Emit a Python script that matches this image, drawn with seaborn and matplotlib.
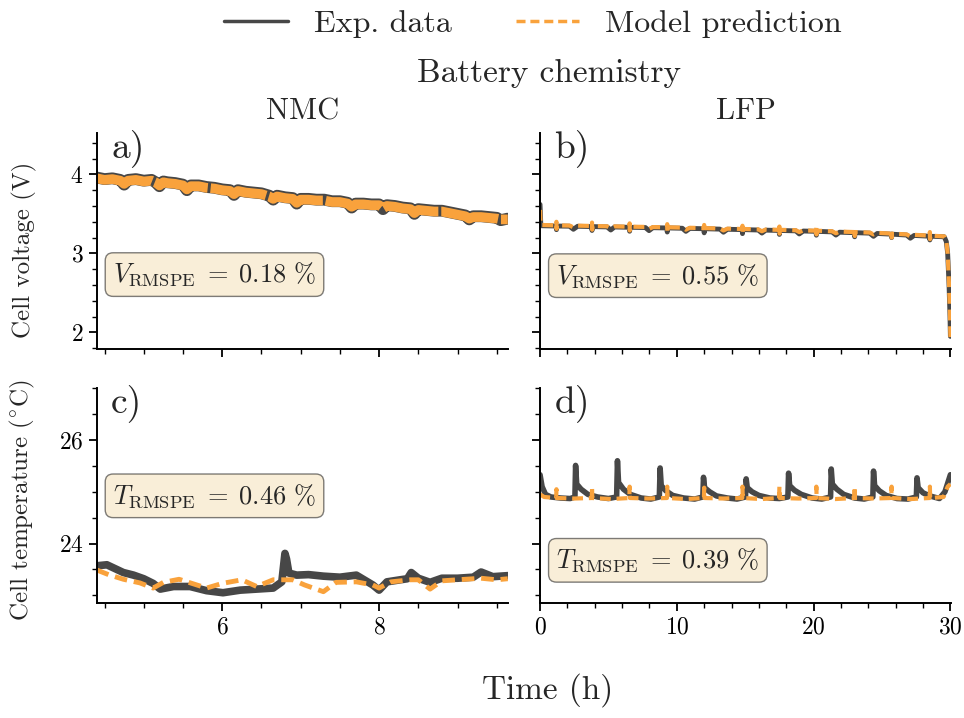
import matplotlib
matplotlib.use("Agg")
import matplotlib.pyplot as plt
from matplotlib.lines import Line2D
from matplotlib.ticker import MultipleLocator, FixedLocator
import seaborn as sns

# ---------------- data ----------------
# NMC cell voltage (V) vs time (h)
t_nmc_v_exp = [4.40, 4.50, 4.60, 4.70, 4.75, 4.80, 4.90, 5.00, 5.10, 5.15, 5.20, 5.25,
               5.30, 5.40, 5.50, 5.55, 5.60, 5.70, 5.80, 5.90, 6.00, 6.10, 6.15, 6.20,
               6.30, 6.40, 6.50, 6.60, 6.65, 6.70, 6.80, 6.90, 6.95, 7.00, 7.10, 7.20,
               7.30, 7.40, 7.50, 7.60, 7.65, 7.70, 7.80, 7.90, 8.00, 8.05, 8.10, 8.20,
               8.30, 8.40, 8.45, 8.50, 8.60, 8.70, 8.80, 8.90, 9.00, 9.10, 9.15, 9.20,
               9.30, 9.40, 9.50, 9.55, 9.64]
v_nmc_exp = [3.96, 3.94, 3.95, 3.93, 3.87, 3.93, 3.94, 3.92, 3.93, 3.90, 3.85, 3.91,
             3.90, 3.89, 3.87, 3.80, 3.86, 3.86, 3.84, 3.83, 3.81, 3.80, 3.74, 3.80,
             3.78, 3.77, 3.76, 3.73, 3.68, 3.73, 3.71, 3.70, 3.63, 3.69, 3.69, 3.68,
             3.68, 3.66, 3.66, 3.64, 3.58, 3.63, 3.63, 3.62, 3.62, 3.56, 3.61, 3.60,
             3.58, 3.57, 3.50, 3.56, 3.55, 3.54, 3.54, 3.52, 3.50, 3.48, 3.43, 3.47,
             3.47, 3.46, 3.45, 3.42, 3.44]
t_nmc_v_mod = [4.40, 4.50, 4.60, 4.70, 4.75, 4.80, 4.90, 5.00, 5.10, 5.15, 5.20, 5.25,
               5.30, 5.40, 5.50, 5.55, 5.60, 5.70, 5.80, 5.90, 6.00, 6.10, 6.15, 6.20,
               6.30, 6.40, 6.50, 6.60, 6.65, 6.70, 6.80, 6.90, 6.95, 7.00, 7.10, 7.20,
               7.30, 7.40, 7.50, 7.60, 7.65, 7.70, 7.80, 7.90, 8.00, 8.05, 8.10, 8.20,
               8.30, 8.40, 8.45, 8.50, 8.60, 8.70, 8.80, 8.90, 9.00, 9.10, 9.15, 9.20,
               9.30, 9.40, 9.50, 9.55, 9.64]
v_nmc_mod = [3.95, 3.93, 3.94, 3.92, 3.88, 3.92, 3.93, 3.91, 3.92, 3.90, 3.86, 3.90,
             3.89, 3.88, 3.86, 3.81, 3.85, 3.85, 3.83, 3.82, 3.80, 3.79, 3.75, 3.79,
             3.77, 3.76, 3.75, 3.72, 3.69, 3.72, 3.70, 3.69, 3.64, 3.68, 3.68, 3.67,
             3.67, 3.65, 3.65, 3.63, 3.59, 3.62, 3.62, 3.61, 3.61, 3.57, 3.60, 3.59,
             3.57, 3.56, 3.51, 3.55, 3.54, 3.53, 3.53, 3.51, 3.49, 3.47, 3.44, 3.46,
             3.46, 3.45, 3.44, 3.43, 3.43]

# LFP cell voltage (V) vs time (h)
t_lfp_v_exp = [0.00, 0.06, 1.18, 1.20, 1.23, 2.15, 2.44, 2.75, 3.78, 3.80, 3.83, 4.90,
               5.17, 5.45, 6.53, 6.55, 6.58, 7.70, 7.97, 8.25, 9.28, 9.30, 9.33, 10.40,
               10.66, 10.95, 11.98, 12.00, 12.03, 13.15, 13.41, 13.70, 14.78, 14.80, 14.83,
               15.95, 16.22, 16.50, 17.48, 17.50, 17.53, 18.70, 18.95, 19.25, 20.18, 20.20,
               20.23, 21.35, 21.63, 21.90, 22.98, 23.00, 23.03, 24.10, 24.38, 24.65, 25.68,
               25.70, 25.73, 26.80, 27.07, 27.35, 28.48, 28.50, 28.53, 29.55, 29.70, 29.80,
               29.90, 29.97, 30.00]
v_lfp_exp = [3.62, 3.350, 3.346, 3.30, 3.346, 3.344, 3.305, 3.343, 3.339, 3.29, 3.339, 3.335,
             3.296, 3.334, 3.330, 3.28, 3.330, 3.327, 3.288, 3.325, 3.322, 3.27, 3.322, 3.318,
             3.279, 3.316, 3.312, 3.26, 3.312, 3.307, 3.268, 3.305, 3.301, 3.25, 3.301,
             3.296, 3.257, 3.294, 3.290, 3.24, 3.290, 3.285, 3.246, 3.283, 3.279, 3.23,
             3.279, 3.272, 3.232, 3.268, 3.262, 3.21, 3.262, 3.256, 3.216, 3.252, 3.243,
             3.20, 3.243, 3.232, 3.192, 3.227, 3.217, 3.17, 3.217, 3.210, 3.15, 3.00,
             2.60, 2.20, 1.95]
t_lfp_v_mod = [0.00, 0.05, 1.18, 1.20, 1.21, 1.23, 2.15, 2.44, 2.75, 3.78, 3.80, 3.81,
               3.83, 4.90, 5.17, 5.45, 6.53, 6.55, 6.56, 6.58, 7.70, 7.97, 8.25, 9.28,
               9.30, 9.31, 9.33, 10.40, 10.66, 10.95, 11.98, 12.00, 12.01, 12.03, 13.15,
               13.41, 13.70, 14.78, 14.80, 14.81, 14.83, 15.95, 16.22, 16.50, 17.48, 17.50,
               17.51, 17.53, 18.70, 18.95, 19.25, 20.18, 20.20, 20.21, 20.23, 21.35, 21.63,
               21.90, 22.98, 23.00, 23.01, 23.03, 24.10, 24.38, 24.65, 25.68, 25.70, 25.71,
               25.73, 26.80, 27.07, 27.35, 28.48, 28.50, 28.51, 28.53, 29.55, 29.70, 29.80,
               29.90, 29.97, 30.00]
v_lfp_mod = [3.55, 3.360, 3.354, 3.40, 3.31, 3.354, 3.352, 3.33, 3.351, 3.347, 3.39, 3.30,
             3.347, 3.343, 3.32, 3.342, 3.338, 3.38, 3.29, 3.338, 3.335, 3.31, 3.333, 3.330,
             3.37, 3.28, 3.330, 3.326, 3.30, 3.324, 3.320, 3.36, 3.27, 3.320, 3.315,
             3.29, 3.313, 3.309, 3.35, 3.26, 3.309, 3.304, 3.28, 3.302, 3.298, 3.34,
             3.25, 3.298, 3.293, 3.27, 3.291, 3.287, 3.33, 3.24, 3.287, 3.280, 3.255,
             3.276, 3.270, 3.31, 3.22, 3.270, 3.264, 3.24, 3.260, 3.251, 3.29, 3.20,
             3.251, 3.240, 3.215, 3.235, 3.225, 3.27, 3.18, 3.225, 3.215, 3.16, 3.00,
             2.60, 2.20, 1.93]

# NMC cell temperature (degC) vs time (h)
t_nmc_T_exp = [4.40, 4.53, 4.74, 4.87, 5.00, 5.12, 5.21, 5.38, 5.59, 5.80, 6.01, 6.23,
               6.44, 6.65, 6.76, 6.80, 6.82, 6.85, 6.95, 7.10, 7.29, 7.50, 7.71, 7.92,
               8.00, 8.10, 8.27, 8.36, 8.41, 8.50, 8.65, 8.80, 9.00, 9.20, 9.30, 9.45, 9.64]
T_nmc_exp = [23.57, 23.59, 23.44, 23.39, 23.32, 23.23, 23.12, 23.17, 23.17, 23.09, 23.05, 23.10,
             23.12, 23.14, 23.26, 23.81, 23.70, 23.43, 23.39, 23.40, 23.37, 23.35, 23.39, 23.20,
             23.10, 23.26, 23.30, 23.32, 23.44, 23.33, 23.25, 23.33, 23.33, 23.35, 23.45, 23.36, 23.38]
t_nmc_T_mod = [4.40, 4.55, 4.74, 4.95, 5.12, 5.25, 5.45, 5.80, 6.00, 6.25, 6.44, 6.65,
               6.90, 7.05, 7.29, 7.45, 7.71, 7.92, 8.00, 8.15, 8.40, 8.50, 8.65, 8.80,
               9.00, 9.30, 9.50, 9.64]
T_nmc_mod = [23.49, 23.40, 23.31, 23.24, 23.14, 23.25, 23.31, 23.14, 23.23, 23.30, 23.17, 23.30,
             23.30, 23.20, 23.07, 23.25, 23.26, 23.20, 23.14, 23.26, 23.30, 23.30, 23.12, 23.28,
             23.30, 23.33, 23.30, 23.32]

# LFP cell temperature (degC) vs time (h)
t_lfp_T_exp = [0.00, 0.15, 0.40, 0.80, 1.50, 2.20, 2.55, 2.60, 2.68, 3.00, 3.50, 4.20,
               5.00, 5.60, 5.66, 5.74, 6.10, 6.60, 7.40, 8.10, 8.72, 8.78, 8.86, 9.20,
               9.70, 10.50, 11.30, 11.90, 11.95, 12.03, 12.40, 12.90, 13.70, 14.40, 15.02,
               15.07, 15.15, 15.50, 16.00, 16.80, 17.50, 18.12, 18.17, 18.25, 18.60, 19.10,
               19.90, 20.60, 21.24, 21.29, 21.37, 21.70, 22.20, 23.00, 23.70, 24.33, 24.38,
               24.46, 24.80, 25.30, 26.10, 26.90, 27.51, 27.56, 27.64, 28.00, 28.50, 29.20,
               29.60, 30.00]
T_lfp_exp = [25.33, 25.10, 24.95, 24.90, 24.88, 24.87, 24.90, 25.51, 25.15, 25.05, 24.95, 24.90,
             24.87, 24.90, 25.60, 25.18, 25.05, 24.95, 24.88, 24.86, 24.90, 25.46, 25.12, 25.02,
             24.93, 24.88, 24.86, 24.90, 25.28, 25.08, 25.00, 24.92, 24.88, 24.86, 24.90,
             25.25, 25.08, 25.00, 24.93, 24.88, 24.87, 24.90, 25.36, 25.12, 25.03, 24.95,
             24.88, 24.86, 24.90, 25.44, 25.15, 25.05, 24.95, 24.88, 24.86, 24.90, 25.40,
             25.12, 25.02, 24.93, 24.87, 24.86, 24.90, 25.27, 25.08, 24.98, 24.92, 24.87,
             25.00, 25.33]
t_lfp_T_mod = [0.00, 0.30, 1.18, 1.20, 1.22, 2.50, 3.78, 3.80, 3.82, 5.20, 6.53, 6.55,
               6.57, 7.90, 9.28, 9.30, 9.32, 10.70, 11.98, 12.00, 12.02, 13.40, 14.78, 14.80,
               14.82, 16.20, 17.48, 17.50, 17.52, 18.90, 20.18, 20.20, 20.22, 21.60, 22.98,
               23.00, 23.02, 24.40, 25.68, 25.70, 25.72, 27.10, 28.48, 28.50, 28.52, 29.50,
               29.80, 30.00]
T_lfp_mod = [24.95, 24.90, 24.88, 25.05, 24.88, 24.87, 24.88, 25.10, 24.88, 24.86, 24.88, 25.10,
             24.88, 24.87, 24.88, 25.10, 24.88, 24.86, 24.88, 25.08, 24.88, 24.87, 24.88, 25.10,
             24.88, 24.86, 24.88, 25.10, 24.88, 24.87, 24.88, 25.10, 24.88, 24.86, 24.88,
             25.10, 24.88, 24.87, 24.88, 25.10, 24.88, 24.86, 24.88, 25.10, 24.88, 24.90,
             25.10, 25.15]

chemistries = ["NMC", "LFP"]
panel_tags = ["a)", "b)", "c)", "d)"]
rmspe_text = [r"$V_{\mathrm{RMSPE}}\;=\;0.18\ \%$", r"$V_{\mathrm{RMSPE}}\;=\;0.55\ \%$",
              r"$T_{\mathrm{RMSPE}}\;=\;0.46\ \%$", r"$T_{\mathrm{RMSPE}}\;=\;0.39\ \%$"]
legend_labels = ["Exp. data", "Model prediction"]

# ---------------- style ----------------
sns.set_theme(style="ticks")
plt.rcParams.update({
    "font.family": "serif",
    "font.serif": ["cmr10"],
    "mathtext.fontset": "cm",
    "axes.formatter.use_mathtext": True,
    "axes.unicode_minus": False,
    "axes.linewidth": 1.4,
    "axes.edgecolor": "black",
    "xtick.color": "black",
    "ytick.color": "black",
    "xtick.major.width": 1.3,
    "ytick.major.width": 1.3,
    "xtick.minor.width": 1.0,
    "ytick.minor.width": 1.0,
    "xtick.major.size": 6,
    "ytick.major.size": 6,
    "xtick.minor.size": 3.5,
    "ytick.minor.size": 3.5,
    "xtick.direction": "out",
    "ytick.direction": "out",
})

GRAY = "#474747"
ORANGE = "#f9a23c"
DASH = (0, (2.6, 1.4))

fig = plt.figure(figsize=(9.64, 7.18), dpi=100)
ax_a = fig.add_axes([0.1003, 0.5139, 0.4264, 0.3005])
ax_b = fig.add_axes([0.5602, 0.5139, 0.4264, 0.3005])
ax_c = fig.add_axes([0.1003, 0.1597, 0.4264, 0.2995])
ax_d = fig.add_axes([0.5602, 0.1597, 0.4264, 0.2995])
axes = [ax_a, ax_b, ax_c, ax_d]

series = [
    (ax_a, t_nmc_v_exp, v_nmc_exp, t_nmc_v_mod, v_nmc_mod, 8.5, 7.0, (0, (6, 0.3))),
    (ax_b, t_lfp_v_exp, v_lfp_exp, t_lfp_v_mod, v_lfp_mod, 3.5, 3.0, DASH),
    (ax_c, t_nmc_T_exp, T_nmc_exp, t_nmc_T_mod, T_nmc_mod, 5.5, 3.5, DASH),
    (ax_d, t_lfp_T_exp, T_lfp_exp, t_lfp_T_mod, T_lfp_mod, 4.0, 3.0, DASH),
]
for ax, te, ye, tm, ym, lw_e, lw_m, ls_m in series:
    sns.lineplot(x=te, y=ye, ax=ax, color=GRAY, lw=lw_e, estimator=None, sort=False)
    sns.lineplot(x=tm, y=ym, ax=ax, color=ORANGE, lw=lw_m, linestyle=ls_m,
                 estimator=None, sort=False)

# limits and ticks
for ax in (ax_a, ax_c):
    ax.set_xlim(4.4, 9.64)
    ax.xaxis.set_major_locator(FixedLocator([6, 8]))
    ax.xaxis.set_minor_locator(MultipleLocator(0.5))
for ax in (ax_b, ax_d):
    ax.set_xlim(0, 30.05)
    ax.xaxis.set_major_locator(MultipleLocator(10))
    ax.xaxis.set_minor_locator(MultipleLocator(2))
    ax.tick_params(labelleft=False)
for ax in (ax_a, ax_b):
    ax.set_ylim(1.79, 4.52)
    ax.yaxis.set_major_locator(MultipleLocator(1))
    ax.yaxis.set_minor_locator(MultipleLocator(0.2))
    ax.tick_params(labelbottom=False)
for ax in (ax_c, ax_d):
    ax.set_ylim(22.845, 27.0)
    ax.yaxis.set_major_locator(FixedLocator([24, 26]))
    ax.yaxis.set_minor_locator(MultipleLocator(0.5))

for ax in axes:
    sns.despine(ax=ax)
    ax.tick_params(which="both", labelsize=17)
    ax.set_xlabel("")
    ax.set_ylabel("")

ax_a.set_ylabel("Cell voltage (V)", fontsize=18)
ax_c.set_ylabel(r"Cell temperature ($^{\circ}$C)", fontsize=18)
ax_a.yaxis.set_label_coords(-0.145, 0.46)
ax_c.yaxis.set_label_coords(-0.145, 0.48)

ax_a.set_title(chemistries[0], fontsize=22, pad=10)
ax_b.set_title(chemistries[1], fontsize=22, pad=10)

box = dict(boxstyle="round", facecolor="wheat", edgecolor="black", alpha=0.5)
box_y = [0.345, 0.34, 0.50, 0.20]
for ax, tag, txt, by in zip(axes, panel_tags, rmspe_text, box_y):
    ax.text(0.035, 1.02, tag, transform=ax.transAxes, fontsize=27, va="top", ha="left")
    ax.text(0.04, by, txt, transform=ax.transAxes, fontsize=19, va="center", ha="left",
            bbox=box)

fig.text(0.5695, 0.898, "Battery chemistry", fontsize=24, ha="center", va="center")
fig.text(0.568, 0.039, "Time (h)", fontsize=24, ha="center", va="center")

handles = [Line2D([], [], color=GRAY, lw=2.5),
           Line2D([], [], color=ORANGE, lw=2.5, linestyle=DASH)]
fig.legend(handles, legend_labels, loc="center", bbox_to_anchor=(0.553, 0.967), ncol=2,
           frameon=False, fontsize=23, handlelength=2.0, columnspacing=2.0)

fig.savefig("out.png", dpi=100)
